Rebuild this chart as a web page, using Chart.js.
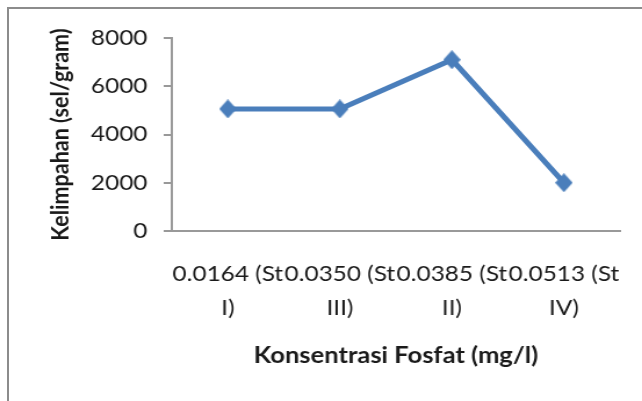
<!DOCTYPE html>
<html lang="id">

<head>
    <meta charset="UTF-8">
    <title>Kelimpahan vs Konsentrasi Fosfat</title>
    <script src="https://cdn.jsdelivr.net/npm/chart.js@4/dist/chart.umd.min.js"></script>
    <style>
        html, body {
            margin: 0;
            padding: 0;
            background: #fff;
            overflow: hidden;
        }

        .frame {
            position: absolute;
            left: 7px;
            top: 7px;
            width: 635px;
            height: 394px;
            border-left: 2px solid #8c8c8c;
            border-top: 2px solid #8c8c8c;
        }

        /* the original picture is stretched sideways, so stretch the canvas too */
        .wrap {
            position: absolute;
            left: 0;
            top: 0;
            width: 553px;
            height: 401px;
            transform: scaleX(1.161);
            transform-origin: 0 0;
        }
    </style>
</head>

<body>
    <div class="frame"></div>
    <div class="wrap"><canvas id="myChart" width="553" height="401"></canvas></div>
    <script>
        // data
        const categories = ['0.0164 (St I)', '0.0350 (St III)', '0.0385 (St II)', '0.0513 (St IV)'];
        const kelimpahan = [5060, 5060, 7100, 2000];
        const yTicks = [0, 2000, 4000, 6000, 8000];

        const fontName = 'Lato, "Open Sans", sans-serif';
        const textColor = '#1a1a1a';
        const axisColor = '#999999';
        const blue = '#4a7ebb';

        // Excel wraps the label at the last space
        function wrapLabel(s) {
            const i = s.lastIndexOf(' ');
            return [s.slice(0, i), s.slice(i + 1)];
        }

        // diamond marker, narrower in canvas units so it ends up square after the stretch
        const marker = document.createElement('canvas');
        marker.width = 15;
        marker.height = 19;
        const m = marker.getContext('2d');
        m.fillStyle = blue;
        m.beginPath();
        m.moveTo(7.5, 0);
        m.lineTo(15, 9.5);
        m.lineTo(7.5, 19);
        m.lineTo(0, 9.5);
        m.closePath();
        m.fill();

        new Chart('myChart', {
            type: 'line',
            data: {
                labels: categories,
                datasets: [{
                    label: 'Kelimpahan',
                    data: kelimpahan,
                    borderColor: blue,
                    backgroundColor: blue,
                    borderWidth: 5,
                    pointStyle: marker,
                    fill: false,
                    tension: 0
                }]
            },
            options: {
                responsive: false,
                animation: false,
                devicePixelRatio: 1,
                layout: { padding: { left: 32, top: 38, right: 19, bottom: 12 } },
                plugins: {
                    legend: { display: false },
                    tooltip: { enabled: false }
                },
                scales: {
                    x: {
                        offset: true,
                        grid: { display: true, drawOnChartArea: false, drawTicks: false, color: axisColor },
                        border: { display: true, color: axisColor, width: 2 },
                        ticks: {
                            color: textColor,
                            padding: 26,
                            maxRotation: 0,
                            autoSkip: false,
                            font: { family: fontName, size: 21, lineHeight: 34 / 21 },
                            callback: function (v, i) { return wrapLabel(categories[i]); }
                        },
                        title: {
                            display: true,
                            text: 'Konsentrasi Fosfat (mg/l)',
                            color: textColor,
                            padding: { top: 0, bottom: 20 },
                            font: { family: fontName, size: 22, weight: 'bold' }
                        },
                        afterFit: function (scale) {
                            scale.height = 158;
                            scale.paddingLeft = 0;
                            scale.paddingRight = 0;
                        }
                    },
                    y: {
                        min: 0,
                        max: 8000,
                        afterBuildTicks: function (scale) { scale.ticks = yTicks.map(v => ({ value: v })); },
                        grid: { display: true, drawOnChartArea: false, drawTicks: true, tickLength: 7, color: axisColor, lineWidth: 2 },
                        border: { display: true, color: axisColor, width: 2 },
                        ticks: {
                            color: textColor,
                            padding: 14,
                            font: { family: fontName, size: 21 },
                            callback: function (v) { return String(v); }
                        },
                        title: {
                            display: true,
                            text: 'Kelimpahan (sel/gram)',
                            color: textColor,
                            padding: { top: 7, bottom: 0 },
                            font: { family: fontName, size: 21.5, weight: 'bold' }
                        },
                        afterFit: function (scale) { scale.width = 116; }
                    }
                }
            }
        });
    </script>
</body>

</html>
